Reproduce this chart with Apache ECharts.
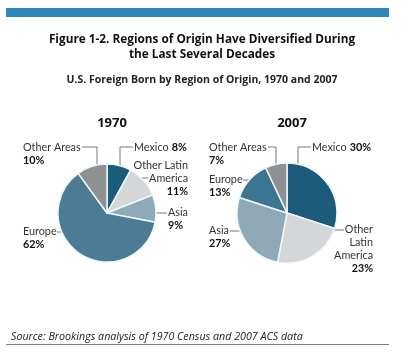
<!DOCTYPE html>
<html><head><meta charset="utf-8">
<script src="https://cdn.jsdelivr.net/npm/echarts@6/dist/echarts.min.js"></script>
<style>html,body{margin:0;padding:0;background:#fff}#c{width:410px;height:360px}</style>
</head><body><div id="c"></div>
<script>
// ---- data ----
const regions = ['Mexico', 'Other Latin America', 'Asia', 'Europe', 'Other Areas'];
const values1970 = [8, 11, 9, 62, 10];
const values2007 = [30, 23, 27, 13, 7];
const labelText1970 = ['Mexico', 'Other Latin\nAmerica', 'Asia', 'Europe', 'Other Areas'];
const labelText2007 = ['Mexico', 'Other\nLatin\nAmerica', 'Asia', 'Europe', 'Other Areas'];
const years = ['1970', '2007'];

// ---- styles / layout ----
const FONT = 'Open Sans';
const LFONT = 'Lato';
const colors1970 = ['#1c5b7c', '#d4d6d7', '#90a9b6', '#4b7b95', '#8e9191'];
const colors2007 = ['#1c5b7c', '#d4d6d7', '#90a9b6', '#3c7592', '#8e9191'];
const pieGeom = [{ c: [107, 213], r: 49 }, { c: [287, 213], r: 50 }];
const LH = 13;
const layout1970 = [
  { x: 134, y: 148, align: 'left', inline: true, line: 'v', vx: 120, ly: 147, lx: 133 },
  { x: 188, y: 166, align: 'right', inline: false, line: 'h', ly: 178, lx: 148 },
  { x: 168, y: 213, align: 'left', inline: false, line: 'h', ly: 213, lx: 167 },
  { x: 23, y: 232, align: 'left', inline: false, line: 'h', ly: 232, lx: 57 },
  { x: 23, y: 148, align: 'left', inline: false, line: 'v', vx: 97, ly: 147, lx: 82 }
];
const layout2007 = [
  { x: 312, y: 148, align: 'left', inline: true, line: 'v', vx: 298, ly: 147, lx: 311 },
  { x: 373, y: 230, align: 'right', inline: false, line: 'h', ly: 230, lx: 344 },
  { x: 209, y: 231, align: 'left', inline: false, line: 'h', ly: 231, lx: 230 },
  { x: 209, y: 180, align: 'left', inline: false, line: 'h', ly: 180, lx: 243 },
  { x: 209, y: 148, align: 'left', inline: false, line: 'v', vx: 276, ly: 147, lx: 268 }
];

function leader(g, s) {
  const cx = g.c[0], cy = g.c[1], r = g.r;
  if (s.line === 'v') {
    const y0 = cy - Math.sqrt(r * r - (s.vx - cx) * (s.vx - cx)) + 2;
    return [[s.vx, y0], [s.vx, s.ly], [s.lx, s.ly]];
  }
  const dx = Math.sqrt(r * r - (s.ly - cy) * (s.ly - cy));
  const x0 = s.lx > cx ? cx + dx - 2 : cx - dx + 2;
  return [[x0, s.ly], [s.lx, s.ly]];
}

function makeSeries(idx, values, texts, colors, lay) {
  const g = pieGeom[idx];
  return {
    type: 'pie',
    center: g.c,
    radius: [0, g.r],
    startAngle: 90,
    clockwise: true,
    animation: false,
    silent: true,
    data: regions.map((n, i) => ({
      name: n, value: values[i],
      itemStyle: { color: colors[i] },
      label: {
        formatter: lay[i].inline
          ? '{n|' + texts[i] + '} {b|' + values[i] + '%}'
          : texts[i].split('\n').map(t => '{n|' + t + '}').join('\n') + '\n{b|' + values[i] + '%}',
        align: lay[i].align
      }
    })),
    itemStyle: { borderColor: '#eef7fb', borderWidth: 1.5 },
    label: {
      show: true, position: 'outside', overflow: 'none', width: 120, edgeDistance: 0,
      fontFamily: LFONT, color: '#222',
      rich: {
        n: { fontFamily: LFONT, fontSize: 10.8, color: '#333', lineHeight: LH },
        b: { fontFamily: LFONT, fontSize: 10.8, fontWeight: 'bold', color: '#111', lineHeight: LH }
      }
    },
    labelLine: { show: true, length: 5, length2: 5, lineStyle: { color: '#555', width: 0.8 } },
    labelLayout: function (p) {
      const s = lay[p.dataIndex];
      return {
        x: s.x, y: s.y - LH / 2, align: s.align, verticalAlign: 'top',
        labelLinePoints: leader(g, s)
      };
    }
  };
}

const chart = echarts.init(document.getElementById('c'), null, { renderer: 'canvas' });
chart.setOption({
  backgroundColor: '#fff',
  title: [
    { text: 'Figure 1-2. Regions of Origin Have Diversified During\nthe Last Several Decades', left: 197, top: 27, textAlign: 'center',
      textStyle: { fontFamily: FONT, fontWeight: 'bold', fontSize: 11.8, color: '#111', lineHeight: 15 } },
    { text: 'U.S. Foreign Born by Region of Origin, 1970 and 2007', left: 197, top: 70, textAlign: 'center',
      textStyle: { fontFamily: FONT, fontWeight: 'bold', fontSize: 10.5, color: '#222' } },
    { text: years[0], left: 107, top: 112, textAlign: 'center',
      textStyle: { fontFamily: FONT, fontWeight: 'bold', fontSize: 13, color: '#111' } },
    { text: years[1], left: 287, top: 112, textAlign: 'center',
      textStyle: { fontFamily: FONT, fontWeight: 'bold', fontSize: 13, color: '#111' } },
    { text: 'Source: Brookings analysis of 1970 Census and 2007 ACS data', left: 6, top: 326,
      textStyle: { fontFamily: FONT, fontStyle: 'italic', fontWeight: 'normal', fontSize: 10.7, color: '#222' } }
  ],
  graphic: [
    { type: 'rect', shape: { x: 6, y: 8, width: 383, height: 9 }, style: { fill: '#2e87bb' }, silent: true },
    { type: 'line', shape: { x1: 6, y1: 344.5, x2: 389, y2: 344.5 }, style: { stroke: '#808080', lineWidth: 1 }, silent: true }
  ],
  series: [
    makeSeries(0, values1970, labelText1970, colors1970, layout1970),
    makeSeries(1, values2007, labelText2007, colors2007, layout2007)
  ]
});
</script></body></html>
